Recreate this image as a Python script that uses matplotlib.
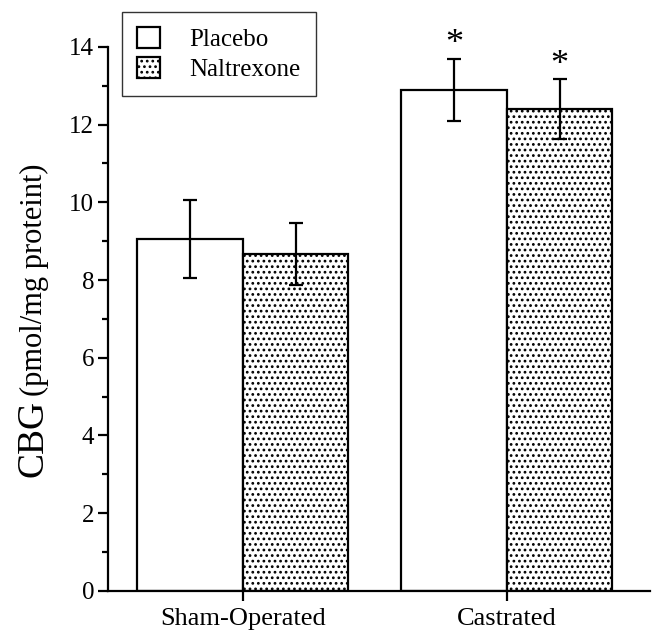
import numpy as np
import matplotlib
matplotlib.use('Agg')
from matplotlib import pyplot as plt

plt.rcParams['font.family'] = ['Liberation Serif', 'DejaVu Serif']
plt.rcParams['hatch.linewidth'] = 1.2

groups = ['Sham-Operated', 'Castrated']
series = ['Placebo', 'Naltrexone']
placebo_mean = [9.05, 12.9]
placebo_err = [1.0, 0.8]
naltrexone_mean = [8.67, 12.4]
naltrexone_err = [0.8, 0.78]
significant = [False, True]

fig = plt.figure(figsize=(6.55, 6.34), dpi=100)
ax = fig.add_axes([0.165, 0.068, 0.827, 0.858])

x = np.arange(len(groups))
w = 0.4
ekw = dict(elinewidth=1.6, capsize=5, capthick=1.6, ecolor='black')
ax.bar(x - w / 2, placebo_mean, w, yerr=placebo_err, color='white',
       edgecolor='black', linewidth=1.6, label=series[0], error_kw=ekw)
ax.bar(x + w / 2, naltrexone_mean, w, yerr=naltrexone_err, color='white',
       edgecolor='black', linewidth=1.6, hatch='...', label=series[1],
       error_kw=ekw)

# significance stars
for i, sig in enumerate(significant):
    if sig:
        ax.text(x[i] - w / 2, placebo_mean[i] + placebo_err[i] + 0.35, '*',
                ha='center', va='center', fontsize=26)
        ax.text(x[i] + w / 2, naltrexone_mean[i] + naltrexone_err[i] + 0.35, '*',
                ha='center', va='center', fontsize=26)

ax.set_xlim(-0.511, 1.542)
ax.set_ylim(0, 14)
ax.set_xticks(x)
ax.set_xticklabels(groups, fontsize=19)
ax.set_yticks(np.arange(0, 15, 2))
ax.set_yticks(np.arange(1, 14, 2), minor=True)
ax.tick_params(axis='y', labelsize=18, length=7, width=1.6, pad=3)
ax.tick_params(axis='y', which='minor', length=4, width=1.6)
ax.tick_params(axis='x', length=7, width=1.6, pad=5)
for s in ['top', 'right']:
    ax.spines[s].set_visible(False)
for s in ['left', 'bottom']:
    ax.spines[s].set_linewidth(1.6)

fig.text(42 / 655, 1 - 477 / 634, 'CBG', rotation=90, rotation_mode='anchor',
         ha='left', va='baseline', fontsize=27)
fig.text(42 / 655, 1 - 396 / 634, '(pmol/mg proteint)', rotation=90,
         rotation_mode='anchor', ha='left', va='baseline', fontsize=22)

leg = ax.legend(loc='upper left', bbox_to_anchor=(0.026, 1.064),
                borderaxespad=0, fontsize=18, frameon=True, fancybox=False,
                edgecolor='black', handlelength=0.9, handleheight=0.9,
                borderpad=0.6, labelspacing=0.25, handletextpad=1.2)
leg.get_frame().set_linewidth(1.0)

fig.savefig('out.png', dpi=100)
